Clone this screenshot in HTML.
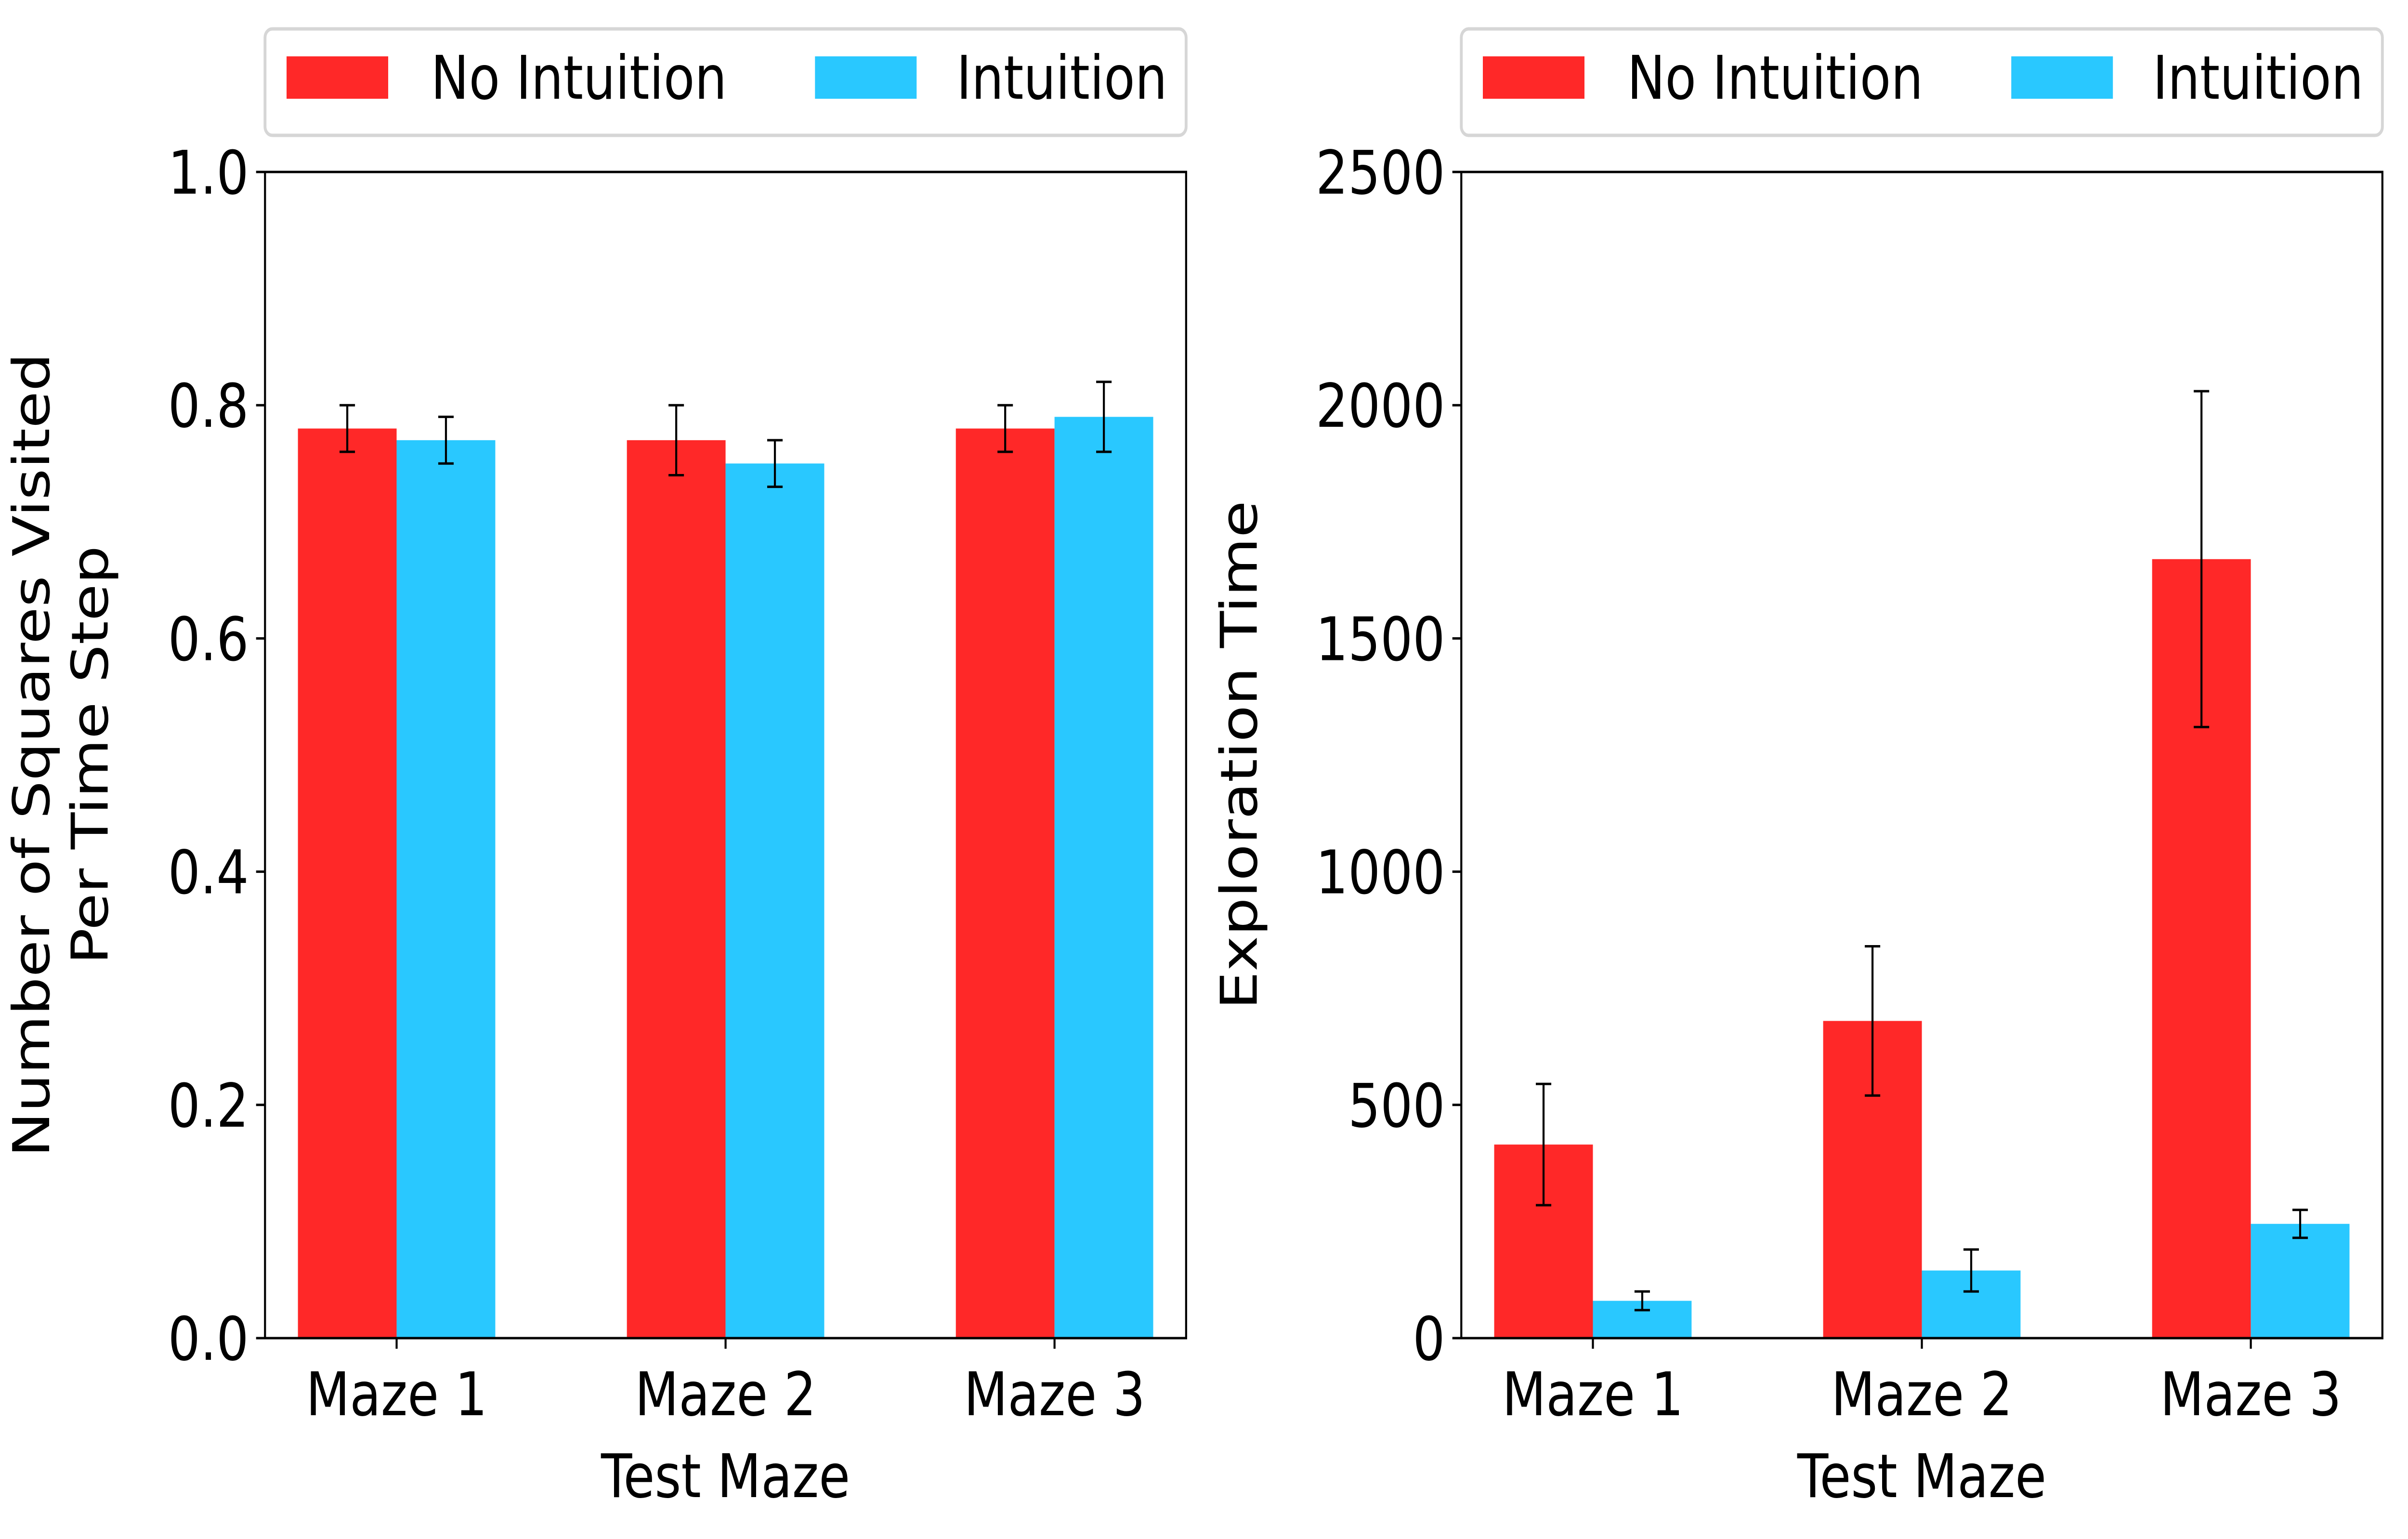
<!DOCTYPE html>
<html><head><meta charset="utf-8"><style>
html,body{margin:0;padding:0;background:#fff;overflow:hidden;width:100%;height:100%;}
svg{display:block;width:100vw;height:100vh;font-family:"DejaVu Sans","Liberation Sans",sans-serif;}
</style></head><body>
<svg id="fig" viewBox="0 0 5924 3195" preserveAspectRatio="none" xmlns="http://www.w3.org/2000/svg"></svg>
<script>
const categories = ["Maze 1","Maze 2","Maze 3"];
const seriesNames = ["No Intuition","Intuition"];
const leftNoIntuition = [0.78,0.77,0.78];
const leftNoIntuitionErr = [0.02,0.03,0.02];
const leftIntuition = [0.77,0.75,0.79];
const leftIntuitionErr = [0.02,0.02,0.03];
const leftTicks = [0.0,0.2,0.4,0.6,0.8,1.0];
const leftTickLabels = ["0.0","0.2","0.4","0.6","0.8","1.0"];
const rightNoIntuition = [415,680,1670];
const rightNoIntuitionErr = [130,160,360];
const rightIntuition = [80,145,245];
const rightIntuitionErr = [20,45,30];
const rightTicks = [0,500,1000,1500,2000,2500];
const rightTickLabels = ["0","500","1000","1500","2000","2500"];

const NS="http://www.w3.org/2000/svg";
const svg=document.getElementById('fig');
function mk(tag,attrs,parent){const e=document.createElementNS(NS,tag);for(const k in attrs)e.setAttribute(k,attrs[k]);(parent||svg).appendChild(e);return e;}
const RED="#ff2828", BLUE="#29c8ff", FS=125;

function panel(id,x0,ymax,noI,noIErr,inI,inIErr,ticks,tickLabels,ylabels){
  const L=x0, R=x0+2266, T=357, B=2778;
  const g=mk('g',{});
  
  
  const xs=v=>L+(v+0.4)/2.8*(R-L);
  const ys=v=>B-v/ymax*(B-T);
  const bw=0.3;
  categories.forEach((c,i)=>{
    const r=mk('rect',{x:xs(i-bw),y:ys(noI[i]),width:xs(i)-xs(i-bw),height:B-ys(noI[i]),fill:RED},g);
    
    
    const b=mk('rect',{x:xs(i),y:ys(inI[i]),width:xs(i+bw)-xs(i),height:B-ys(inI[i]),fill:BLUE},g);
    
    
    [[i-bw/2,noI[i],noIErr[i]],[i+bw/2,inI[i],inIErr[i]]].forEach(([cx,v,e],k)=>{
      const eg=mk('g',{stroke:'#000','stroke-width':5},g);
      
      
      const x=xs(cx);
      mk('line',{x1:x,x2:x,y1:ys(v-e),y2:ys(v+e)},eg);
      mk('line',{x1:x-19,x2:x+19,y1:ys(v-e),y2:ys(v-e)},eg);
      mk('line',{x1:x-19,x2:x+19,y1:ys(v+e),y2:ys(v+e)},eg);
    });
    mk('line',{x1:xs(i),x2:xs(i),y1:B,y2:B+22,stroke:'#000','stroke-width':5},g);
    const t=mk('text',{x:xs(i),y:2938,'text-anchor':'middle','font-size':FS,fill:'#000'},g);
    t.textContent=c;
    
    
  });
  ticks.forEach((v,i)=>{
    mk('line',{x1:L-22,x2:L,y1:ys(v),y2:ys(v),stroke:'#000','stroke-width':5},g);
    const t=mk('text',{x:L-40,y:ys(v)+45,'text-anchor':'end','font-size':FS,fill:'#000'},g);
    t.textContent=tickLabels[i];
    
    
  });
  mk('rect',{x:L,y:T,width:R-L,height:B-T,fill:'none',stroke:'#000','stroke-width':5},g);
  const xt=mk('text',{x:(L+R)/2,y:3108,'text-anchor':'middle','font-size':FS,fill:'#000'},g);
  xt.textContent="Test Maze";
  
  
  ylabels.forEach(([txt,cx])=>{
    const yt=mk('text',{x:0,y:0,'text-anchor':'middle','font-size':FS,fill:'#000',transform:`translate(${cx+44},${(T+B)/2}) rotate(-90)`},g);
    yt.textContent=txt;
    
    
  });
  const lg=mk('g',{},g);
  
  
  mk('rect',{x:L,y:60,width:R-L,height:221,rx:18,fill:'#fff',stroke:'#d6d6d6','stroke-width':7},lg);
  [[RED,703-650,1058-650],[BLUE,2003-650,2351-650]].forEach(([col,px,tx],k)=>{
    const p=mk('rect',{x:L+px,y:117,width:250,height:88,fill:col},lg);
    
    
    const t=mk('text',{x:L+tx,y:205,'font-size':FS,fill:'#000'},lg);
    t.textContent=seriesNames[k];
    
    
  });
}
panel('left',652,1.0,leftNoIntuition,leftNoIntuitionErr,leftIntuition,leftIntuitionErr,leftTicks,leftTickLabels,[["Number of Squares Visited",77],["Per Time Step",221]]);
panel('right',3595,2500,rightNoIntuition,rightNoIntuitionErr,rightIntuition,rightIntuitionErr,rightTicks,rightTickLabels,[["Exploration Time",3048]]);
</script>
</body></html>
